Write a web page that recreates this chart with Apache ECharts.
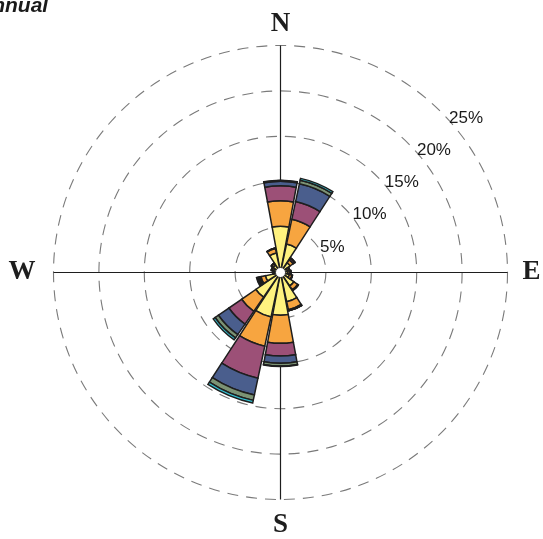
<!DOCTYPE html>
<html><head><meta charset="utf-8">
<script src="https://cdn.jsdelivr.net/npm/echarts@6/dist/echarts.min.js"></script>
<style>html,body{margin:0;padding:0;background:#fff}#c{width:543px;height:539px}</style>
</head><body><div id="c"></div>
<script>
// 16 wind directions, clockwise from north
const directions = ['N','NNE','NE','ENE','E','ESE','SE','SSE','S','SSW','SW','WSW','W','WNW','NW','NNW'];
// frequency (%) of each speed class per direction
const speedClass1 = [5.1, 3.2, 1.3, 0.8, 0.8, 1.0, 1.8, 3.3, 4.7, 5.0, 3.3, 1.7, 0.6, 0.8, 1.0, 2.2];
const speedClass2 = [2.8, 2.8, 0.4, 0.2, 0.2, 0.3, 0.5, 0.9, 3.1, 3.3, 1.9, 0.5, 0.1, 0.2, 0.2, 0.5];
const speedClass3 = [1.65, 2.0, 0.2, 0.05, 0.1, 0.05, 0.1, 0.1, 1.4, 3.6, 1.7, 0.15, 0.05, 0.05, 0.05, 0.05];
const speedClass4 = [0.5, 2.0, 0.05, 0, 0.05, 0, 0, 0.02, 0.8, 1.9, 1.4, 0.15, 0.05, 0, 0, 0];
const speedClass5 = [0.08, 0.4, 0, 0, 0.02, 0, 0, 0, 0.3, 0.6, 0.45, 0.15, 0.02, 0, 0, 0];
const speedClass6 = [0.03, 0.2, 0, 0, 0, 0, 0, 0, 0.05, 0.3, 0.25, 0.05, 0, 0, 0, 0];
const ringTicks = [5, 10, 15, 20, 25];
const compassNames = ['N', 'E', 'S', 'W'];
const titleText = 'Annual';

const classColors = ['#FFF27F', '#F7A540', '#9C5077', '#4A5E8D', '#7C9374', '#33C2D2'];
const classData = [speedClass1, speedClass2, speedClass3, speedClass4, speedClass5, speedClass6];

const cx = 280.5, cy = 272.5, R = 227, maxV = 25;
const k = R / maxV;

const chart = echarts.init(document.getElementById('c'), null, {renderer: 'canvas'});

const series = classData.map((d, i) => ({
  type: 'bar',
  coordinateSystem: 'polar',
  polarIndex: 0,
  stack: 'wind',
  data: d,
  barCategoryGap: '7%',
  itemStyle: {color: classColors[i], borderColor: '#1e1e1e', borderWidth: 1.5},
  silent: true,
  z: 3
}));

const ringLabels = ringTicks.map((v, i) => {
  const dy = 25.5 + 32.2 * i;
  const r = v * k;
  const dx = Math.sqrt(Math.max(r * r - dy * dy, 0));
  return {
    type: 'text', z: 10,
    style: {text: v + '%', x: cx + dx + 2, y: cy - dy, font: '17px "Liberation Sans", Arial, sans-serif',
      fill: '#1a1a1a', textAlign: 'left', textVerticalAlign: 'middle'}
  };
});

const compassFont = {fontFamily: '"Liberation Serif", "Times New Roman", serif', fontWeight: 'bold', fontSize: 27, color: '#1e1e1e'};
const compassRich = {
  n: Object.assign({padding: [0, 0, 0, 0]}, compassFont),
  e: Object.assign({padding: [0, 0, 0, 7]}, compassFont),
  s: Object.assign({padding: [4, 0, 0, 0]}, compassFont),
  w: Object.assign({padding: [0, 10, 0, 0]}, compassFont)
};

chart.setOption({
  animation: false,
  backgroundColor: '#fff',
  polar: [
    {center: [cx, cy], radius: R},
    {center: [cx, cy], radius: R}
  ],
  angleAxis: [
    {polarIndex: 0, type: 'category', data: directions, startAngle: 90 + 360 / 32, clockwise: true,
      axisLine: {show: false}, axisTick: {show: false}, axisLabel: {show: false}, splitLine: {show: false}},
    {polarIndex: 1, type: 'value', min: 0, max: 360, interval: 90, startAngle: 90, clockwise: true,
      axisLine: {show: false}, axisTick: {show: false},
      splitLine: {show: true, lineStyle: {color: '#1e1e1e', width: 1.2, type: 'solid'}},
      axisLabel: Object.assign({show: true, margin: 8, rich: compassRich,
        formatter: v => {
          if (v >= 360) return '';
          const name = compassNames[Math.round(v / 90) % 4];
          return '{' + name.toLowerCase() + '|' + name + '}';
        }}, compassFont)}
  ],
  radiusAxis: [
    {polarIndex: 0, type: 'value', min: 0, max: maxV, interval: 5,
      axisLine: {show: false}, axisTick: {show: false}, axisLabel: {show: false},
      splitLine: {show: true, lineStyle: {color: '#7a7a7a', width: 1.1, type: [11, 8]}}},
    {polarIndex: 1, type: 'value', min: 0, max: maxV, interval: 5,
      axisLine: {show: false}, axisTick: {show: false}, axisLabel: {show: false}, splitLine: {show: false}}
  ],
  series: series,
  graphic: [
    {type: 'circle', z: 20, shape: {cx: cx, cy: cy, r: 5}, style: {fill: '#fff', stroke: '#1e1e1e', lineWidth: 0.8}},
    {type: 'text', z: 20, style: {text: titleText, x: -23, y: 6, font: 'italic bold 21px "Liberation Sans", Arial, sans-serif',
      fill: '#1a1a1a', textAlign: 'left', textVerticalAlign: 'middle'}}
  ].concat(ringLabels)
});
</script>
</body></html>
